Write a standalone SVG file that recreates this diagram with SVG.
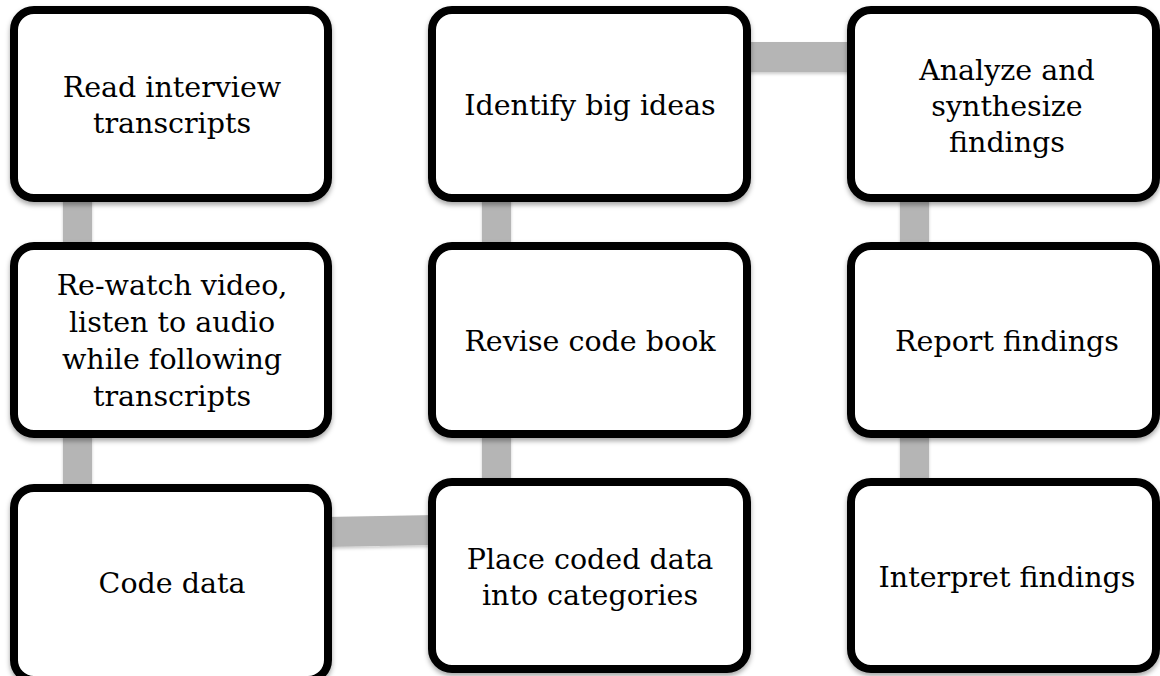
<svg xmlns="http://www.w3.org/2000/svg" width="1160" height="676" viewBox="0 0 1160 676">
  <defs>
    <filter id="sh" x="-10%" y="-10%" width="120%" height="130%">
      <feDropShadow dx="0" dy="3" stdDeviation="2.5" flood-color="#000" flood-opacity="0.35"/>
    </filter>
    <filter id="csh" x="-10%" y="-10%" width="120%" height="130%">
      <feDropShadow dx="0" dy="2" stdDeviation="1.5" flood-color="#000" flood-opacity="0.2"/>
    </filter>
  </defs>
  <style>
    .box { fill: #ffffff; stroke: #000000; stroke-width: 8; filter: url(#sh); }
    .conn { fill: #b5b5b5; filter: url(#csh); }
    .lbl { font-family: "DejaVu Serif", "Liberation Serif", serif; font-size: 28.5px; fill: #000000; text-anchor: middle; }
  </style>
  <rect x="0" y="0" width="1160" height="676" fill="#ffffff"/>
  <g id="connectors">
    <rect class="conn" x="63" y="195" width="29" height="55"/>
    <rect class="conn" x="63" y="430" width="29" height="60"/>
    <polygon class="conn" points="325,517 436,515 436,545 325,547"/>
    <rect class="conn" x="482" y="195" width="29" height="55"/>
    <rect class="conn" x="482" y="430" width="29" height="55"/>
    <rect class="conn" x="742" y="42" width="112" height="30"/>
    <rect class="conn" x="900" y="195" width="29" height="55"/>
    <rect class="conn" x="900" y="430" width="29" height="55"/>
  </g>
  <g id="n1">
    <rect class="box" x="14" y="10" width="314" height="188" rx="20"/>
    <text class="lbl" x="172" y="96.5">Read interview</text>
    <text class="lbl" x="172" y="132.5">transcripts</text>
  </g>
  <g id="n2">
    <rect class="box" x="14" y="246" width="314" height="188" rx="20"/>
    <text class="lbl" x="172" y="295">Re-watch video,</text>
    <text class="lbl" x="172" y="332">listen to audio</text>
    <text class="lbl" x="172" y="369">while following</text>
    <text class="lbl" x="172" y="406">transcripts</text>
  </g>
  <g id="n3">
    <rect class="box" x="14" y="488" width="314" height="192" rx="20"/>
    <text class="lbl" x="172" y="593">Code data</text>
  </g>
  <g id="n4">
    <rect class="box" x="432" y="482" width="315" height="187" rx="20"/>
    <text class="lbl" x="590" y="568.5">Place coded data</text>
    <text class="lbl" x="590" y="604.5">into categories</text>
  </g>
  <g id="n5">
    <rect class="box" x="432" y="246" width="315" height="188" rx="20"/>
    <text class="lbl" x="590" y="351">Revise code book</text>
  </g>
  <g id="n6">
    <rect class="box" x="432" y="10" width="315" height="188" rx="20"/>
    <text class="lbl" x="590" y="115">Identify big ideas</text>
  </g>
  <g id="n7">
    <rect class="box" x="851" y="10" width="305" height="188" rx="20"/>
    <text class="lbl" x="1007" y="80">Analyze and</text>
    <text class="lbl" x="1007" y="116">synthesize</text>
    <text class="lbl" x="1007" y="152">findings</text>
  </g>
  <g id="n8">
    <rect class="box" x="851" y="246" width="305" height="188" rx="20"/>
    <text class="lbl" x="1007" y="351">Report findings</text>
  </g>
  <g id="n9">
    <rect class="box" x="851" y="482" width="305" height="187" rx="20"/>
    <text class="lbl" x="1007" y="587">Interpret findings</text>
  </g>
</svg>
